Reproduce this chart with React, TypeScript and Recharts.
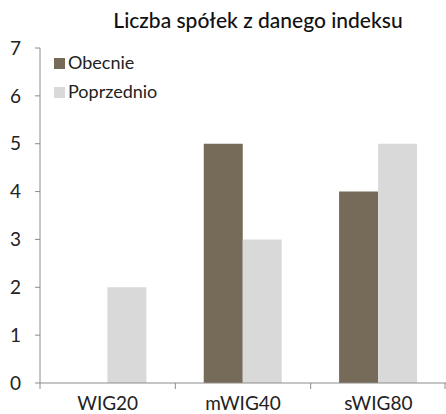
import { BarChart, Bar, XAxis, YAxis } from 'recharts';

const categories = ['WIG20', 'mWIG40', 'sWIG80'];
const obecnie = [0, 5, 4];
const poprzednio = [2, 3, 5];
const yTicks = [0, 1, 2, 3, 4, 5, 6, 7];

const seriesMeta = [
  { key: 'Obecnie', color: '#766a58' },
  { key: 'Poprzednio', color: '#d9d9d9' },
];

const data = categories.map((name, i) => ({
  name,
  Obecnie: obecnie[i],
  Poprzednio: poprzednio[i],
}));

const W = 446;
const H = 414;
const Y_AXIS_W = 40;
const BAND = (W - Y_AXIS_W) / categories.length;
const FONT = 'Lato, sans-serif';
const AXIS = '#8c8c8c';

// tick marks sit on category boundaries, labels in the middle
const BoundaryTick = (props: any) => {
  const { x, y, payload, index } = props;
  const left = x - BAND / 2;
  const right = x + BAND / 2;
  return (
    <g>
      <line x1={left} y1={y - 8} x2={left} y2={y - 2} stroke={AXIS} />
      {index === categories.length - 1 && (
        <line x1={right - 1} y1={y - 8} x2={right - 1} y2={y - 2} stroke={AXIS} />
      )}
      <text x={x} y={y + 19} textAnchor="middle" fill="#222" fontSize={19} fontFamily={FONT}>
        {payload.value}
      </text>
    </g>
  );
};

const App = () => {
  return (
    <div style={{ position: 'absolute', left: 0, top: 0, width: W, height: H, background: 'white' }}>
      <div
        style={{
          position: 'absolute',
          top: 7,
          left: 98,
          width: 320,
          textAlign: 'center',
          fontFamily: FONT,
          fontSize: 21,
          fontWeight: 500,
          color: '#111',
        }}
      >
        Liczba spółek z danego indeksu
      </div>
      <div
        style={{
          position: 'absolute',
          top: 48,
          left: 54,
          zIndex: 2,
          fontFamily: FONT,
          fontSize: 18,
          color: '#222',
          lineHeight: '29px',
        }}
      >
        {seriesMeta.map((s) => (
          <div key={s.key} style={{ display: 'flex', alignItems: 'center' }}>
            <span style={{ width: 11, height: 11, background: s.color, marginRight: 3, marginTop: 2 }} />
            {s.key}
          </div>
        ))}
      </div>
      <BarChart
        width={W}
        height={H}
        data={data}
        margin={{ top: 48, right: 0, left: 0, bottom: 0 }}
        barCategoryGap="21%"
        barGap={0}
      >
        <XAxis
          dataKey="name"
          height={31}
          axisLine={{ stroke: AXIS }}
          tickLine={false}
          tick={<BoundaryTick />}
          interval={0}
        />
        <YAxis
          width={Y_AXIS_W}
          domain={[0, 7]}
          ticks={yTicks}
          interval={0}
          axisLine={{ stroke: AXIS }}
          tickLine={{ stroke: AXIS }}
          tickSize={5}
          tickMargin={14}
          tick={{ fill: '#222', fontSize: 19, fontFamily: FONT }}
        />
        {seriesMeta.map((s) => (
          <Bar key={s.key} dataKey={s.key} fill={s.color} isAnimationActive={false} />
        ))}
      </BarChart>
    </div>
  );
};

export default App;
